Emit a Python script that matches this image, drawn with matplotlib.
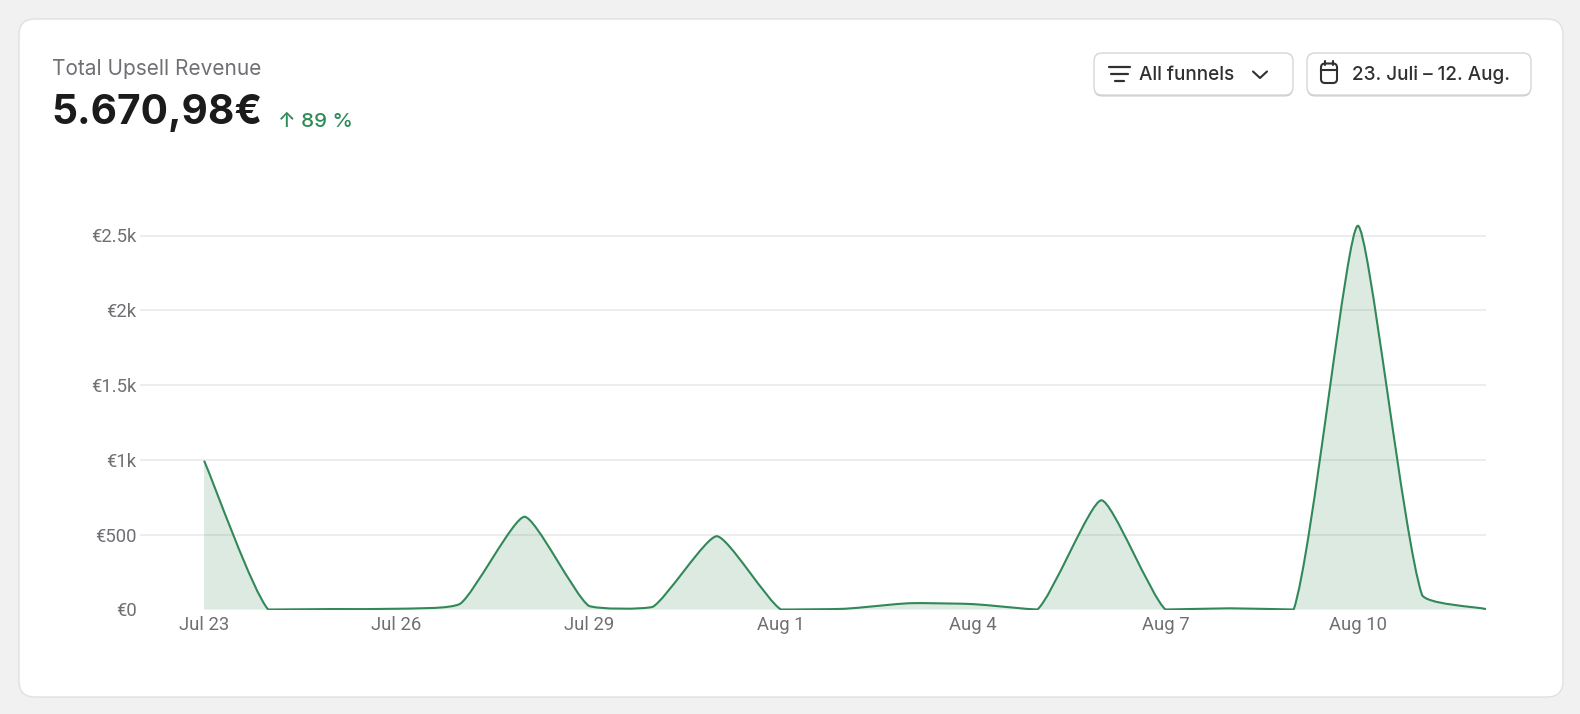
import numpy as np
import matplotlib
matplotlib.use("Agg")
import matplotlib.pyplot as plt
from matplotlib.patches import FancyBboxPatch, PathPatch
from matplotlib.path import Path

# daily upsell revenue, Jul 23 .. Aug 12
day_labels = ["Jul 23", "Jul 24", "Jul 25", "Jul 26", "Jul 27", "Jul 28", "Jul 29",
              "Jul 30", "Jul 31", "Aug 1", "Aug 2", "Aug 3", "Aug 4", "Aug 5",
              "Aug 6", "Aug 7", "Aug 8", "Aug 9", "Aug 10", "Aug 11", "Aug 12"]
revenue = [995, 0, 3, 5, 40, 620, 25, 18, 490, 0, 5, 42, 36, 0,
           730, 0, 8, 0, 2565, 100, 3]

tick_labels = ["Jul 23", "Jul 26", "Jul 29", "Aug 1", "Aug 4", "Aug 7", "Aug 10"]
y_ticks = [500, 1000, 1500, 2000, 2500]
y_tick_labels = ["€500", "€1k", "€1.5k", "€2k", "€2.5k"]

title = "Total Upsell Revenue"
total = "5.670,98€"
change = "↑ 89 %"

LINE = "#318858"
GREY = "#6f6f74"
DARK = "#303030"

plt.rcParams['font.family'] = ['Inter', 'DejaVu Sans']


def spline_path(ax, x, y, tension=0.3):
    # chart.js style bezier spline, worked out in screen pixels
    pts = ax.transData.transform(np.column_stack([x, y]))
    bb = ax.bbox
    n = len(pts)
    cp_prev = np.zeros_like(pts)
    cp_next = np.zeros_like(pts)
    for i in range(n):
        prev = pts[max(i - 1, 0)]
        cur = pts[i]
        nxt = pts[min(i + 1, n - 1)]
        d01 = np.hypot(*(cur - prev))
        d12 = np.hypot(*(nxt - cur))
        tot = d01 + d12
        s01 = d01 / tot if tot else 0
        s12 = d12 / tot if tot else 0
        cp_prev[i] = cur - tension * s01 * (nxt - prev)
        cp_next[i] = cur + tension * s12 * (nxt - prev)
    for cp in (cp_prev, cp_next):
        cp[:, 0] = np.clip(cp[:, 0], bb.x0, bb.x1)
        cp[:, 1] = np.clip(cp[:, 1], bb.y0, bb.y1)
    verts = [pts[0]]
    codes = [Path.MOVETO]
    for i in range(n - 1):
        verts += [cp_next[i], cp_prev[i + 1], pts[i + 1]]
        codes += [Path.CURVE4] * 3
    verts = ax.transData.inverted().transform(np.array(verts))
    return [tuple(v) for v in verts], codes


fig = plt.figure(figsize=(15.8, 7.14), dpi=100, facecolor="#f1f1f1")

# background layer in pixel units
bg = fig.add_axes([0, 0, 1, 1])
bg.set_xlim(0, 1580)
bg.set_ylim(714, 0)
bg.axis("off")

bg.add_patch(FancyBboxPatch((19, 19), 1544, 678, boxstyle="round,pad=0,rounding_size=16",
                            fc="white", ec="#e0e0e0", lw=1))

for x0, w in [(1094, 199), (1307, 224)]:
    bg.add_patch(FancyBboxPatch((x0, 54.5), w, 42, boxstyle="round,pad=0,rounding_size=8",
                                fc="#c9c9c9", ec="none"))
    bg.add_patch(FancyBboxPatch((x0, 53), w, 42, boxstyle="round,pad=0,rounding_size=8",
                                fc="white", ec="#d6d6d6", lw=1))

# filter icon
for y0, xa, xb in [(66.5, 1108.5, 1130), (73.5, 1111, 1127.5), (80.5, 1114.5, 1124)]:
    bg.plot([xa, xb], [y0, y0], color=DARK, lw=1.6, solid_capstyle="round")
# chevron
bg.plot([1253, 1260, 1267], [71.5, 78, 71.5], color=DARK, lw=1.5,
        solid_capstyle="round", solid_joinstyle="round")
# calendar icon
bg.add_patch(FancyBboxPatch((1321, 63.5), 16, 19.5, boxstyle="round,pad=0,rounding_size=4",
                            fc="none", ec=DARK, lw=1.5))
bg.plot([1321, 1337], [69.5, 69.5], color=DARK, lw=1.5)
for xt in [1325, 1333]:
    bg.plot([xt, xt], [61, 64.5], color=DARK, lw=1.5, solid_capstyle="round")

bg.text(52, 75, title, fontsize=15, color=GREY, va="baseline", ha="left")
bg.text(51, 123.5, total, fontsize=29.2, color="#1b1b1b", fontweight="bold",
        va="baseline", ha="left")
bg.text(278, 127, change, fontsize=14.8, color="#2e8a57", fontweight="medium",
        va="baseline", ha="left")
bg.text(1139, 80, "All funnels", fontsize=13.6, color=DARK, fontweight="medium",
        va="baseline", ha="left")
bg.text(1351.5, 80, "23. Juli – 12. Aug.", fontsize=13.6, color=DARK, fontweight="medium",
        va="baseline", ha="left")

# chart
x = list(range(len(revenue)))
y_top = 2700
px_bottom, px_top = 609.5, 609.5 - y_top * 0.1496
ax = fig.add_axes([140 / 1580, (714 - px_bottom) / 714, 1346 / 1580, (px_bottom - px_top) / 714])
ax.set_xlim(-1, len(revenue) - 1)
ax.set_ylim(0, y_top)
ax.patch.set_alpha(0)
for sp in ax.spines.values():
    sp.set_visible(False)

for yv in y_ticks:
    ax.axhline(yv, color="#e8e8e8", lw=1.1, zorder=0)

verts, codes = spline_path(ax, x, revenue, tension=0.17)
area_verts = verts + [(x[-1], 0), (x[0], 0), (x[0], revenue[0])]
area_codes = codes + [Path.LINETO, Path.LINETO, Path.CLOSEPOLY]
ax.add_patch(PathPatch(Path(area_verts, area_codes), fc=LINE, alpha=0.17, ec="none", zorder=1))
ax.add_patch(PathPatch(Path(verts, codes), fc="none", ec=LINE, lw=1.5, zorder=2))

ax.set_yticks([0] + y_ticks)
ax.set_yticklabels(["€0"] + y_tick_labels, family=["Roboto", "DejaVu Sans"],
                   fontsize=13.3, color=GREY)
ax.set_xticks([day_labels.index(t) for t in tick_labels])
ax.set_xticklabels(tick_labels, family=["Roboto", "DejaVu Sans"], fontsize=13.3, color=GREY)
ax.tick_params(axis="y", length=0, pad=2.5)
ax.tick_params(axis="x", length=0, pad=5)

fig.savefig("out.png", dpi=100, facecolor=fig.get_facecolor())
